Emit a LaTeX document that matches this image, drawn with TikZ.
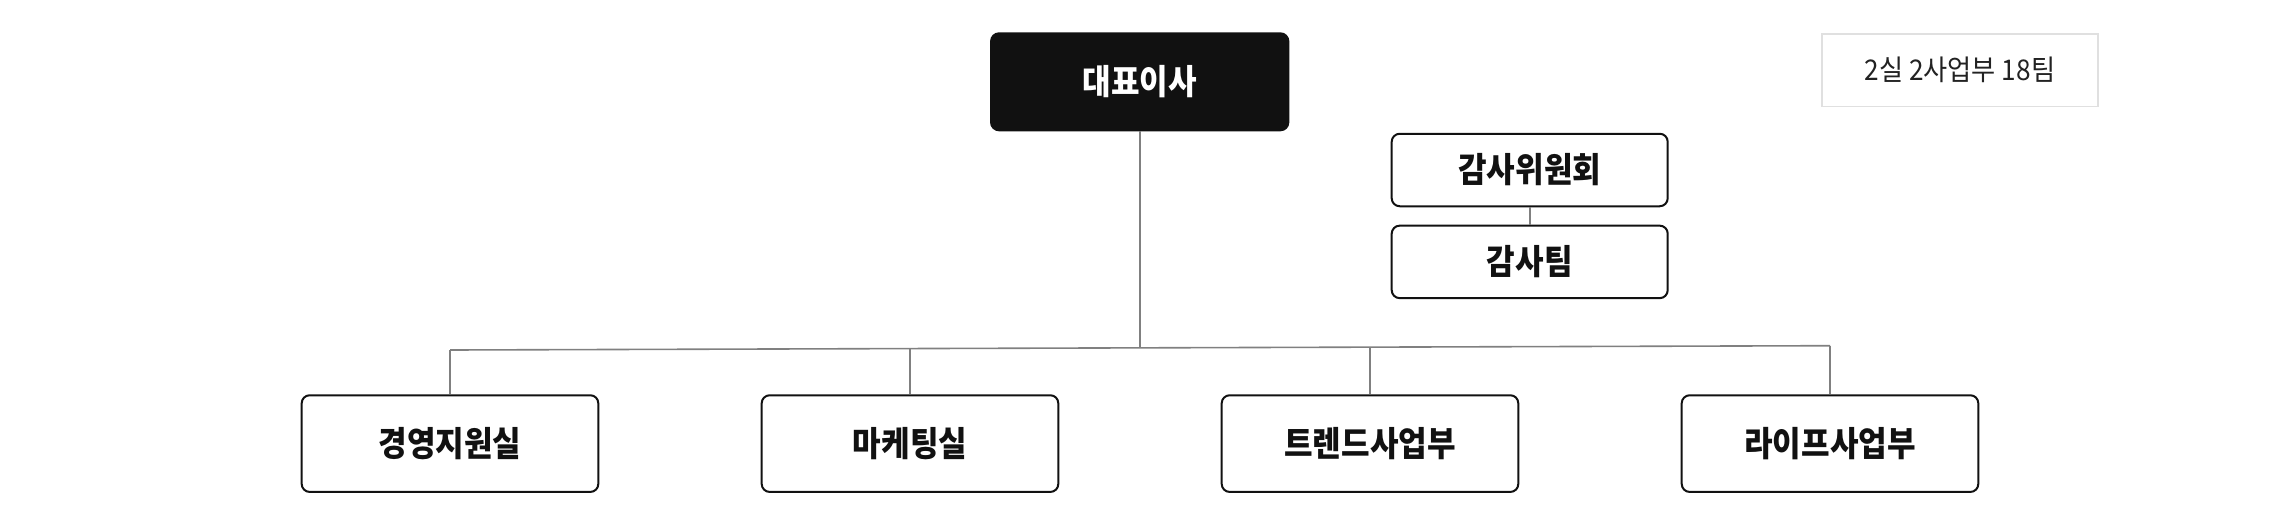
\documentclass[tikz,border=0pt]{standalone}
\usepackage{fontspec}
\newfontfamily\krb[FakeStretch=0.9]{Noto Sans CJK KR}
\newfontfamily\krr[FakeStretch=0.92]{Noto Sans CJK KR}
\definecolor{boxline}{HTML}{111111}
\definecolor{conn}{HTML}{808080}
\definecolor{legline}{HTML}{E0E0E0}
\definecolor{legtext}{HTML}{222222}
\tikzset{
  orgbox/.style={draw=boxline, line width=2pt, rounded corners=8pt, fill=white,
    inner sep=0pt, font=\krb\bfseries\fontsize{34.5}{40}\selectfont, text=boxline},
  bigbox/.style={orgbox, minimum width=296.6pt, minimum height=96.7pt},
  smallbox/.style={orgbox, minimum width=276pt, minimum height=72.5pt},
  ceobox/.style={orgbox, draw=boxline, fill=boxline, text=white, rounded corners=8pt,
    minimum width=297.3pt, minimum height=97pt},
  legbox/.style={draw=legline, line width=1.8pt, fill=white, inner sep=0pt,
    minimum width=276.5pt, minimum height=72.8pt,
    font=\krr\fontsize{28.5}{34}\selectfont, text=legtext},
  link/.style={draw=conn, line width=1.6pt}
}
\begin{document}
\begin{tikzpicture}[x=1pt,y=-1pt]
\useasboundingbox[fill=white] (0,0) rectangle (2280,520);
% top
\node[ceobox] (ceo) at (1139.7,81.8) {대표이사};
\node[smallbox] (ac) at (1529.7,170) {감사위원회};
\node[smallbox] (at) at (1529.7,261.9) {감사팀};
\node[legbox] (leg) at (1959.9,70) {2실 2사업부 18팀};
% bottom
\node[bigbox] (b1) at (450,443.6) {경영지원실};
\node[bigbox] (b2) at (910,443.6) {마케팅실};
\node[bigbox] (b3) at (1370,443.6) {트렌드사업부};
\node[bigbox] (b4) at (1830,443.6) {라이프사업부};
% junctions on the (slightly sloping) bus line
\coordinate (j1) at (450,350);
\coordinate (j2) at (910,348.6);
\coordinate (jc) at (1139.7,347.85);
\coordinate (j3) at (1370,347.1);
\coordinate (j4) at (1830,345.7);
% connectors
\draw[link] (ceo.south) -- (jc);
\draw[link] (j1) -- (j4);
\draw[link] (j1) -- (b1.north);
\draw[link] (j2) -- (b2.north);
\draw[link] (j3) -- (b3.north);
\draw[link] (j4) -- (b4.north);
\draw[link] (ac.south) -- (at.north);
\end{tikzpicture}
\end{document}
